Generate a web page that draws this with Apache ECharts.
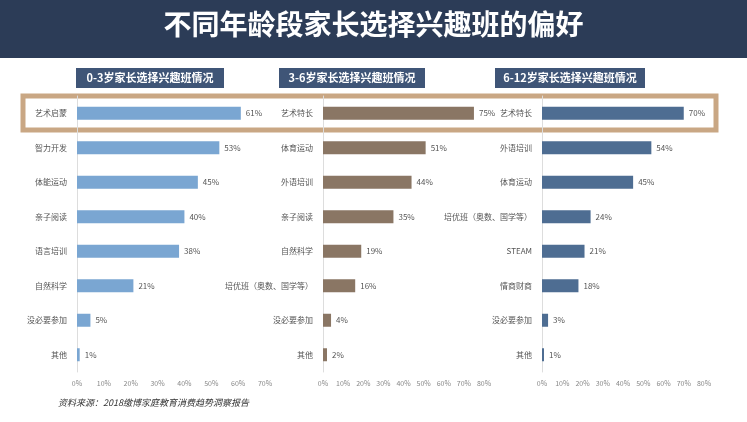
<!DOCTYPE html><html><head><meta charset="utf-8"><script src="https://cdn.jsdelivr.net/npm/echarts@6/dist/echarts.min.js"></script></head><body style="margin:0"><div id="c" style="width:747px;height:422px"></div><script>
const cats1=['艺术启蒙','智力开发','体能运动','亲子阅读','语言培训','自然科学','没必要参加','其他'];
const vals1=[61,53,45,40,38,21,5,1];
const cats2=['艺术特长','体育运动','外语培训','亲子阅读','自然科学','培优班（奥数、国学等）','没必要参加','其他'];
const vals2=[75,51,44,35,19,16,4,2];
const cats3=['艺术特长','外语培训','体育运动','培优班（奥数、国学等）','STEAM','情商财商','没必要参加','其他'];
const vals3=[70,54,45,24,21,18,3,1];
const subtitles=['0-3岁家长选择兴趣班情况','3-6岁家长选择兴趣班情况','6-12岁家长选择兴趣班情况'];
const colors=['#7aa6d2','#8a7664','#4e6d92'];
const grids=[{left:77,width:188,max:70},{left:323,width:161,max:80},{left:542,width:162,max:80}];
const data=[[cats1,vals1],[cats2,vals2],[cats3,vals3]];
const F='"Noto Sans CJK SC",serif';
const ch=echarts.init(document.getElementById('c'));
const o={backgroundColor:'#fff',grid:[],xAxis:[],yAxis:[],series:[],graphic:[
{type:'rect',shape:{x:0,y:0,width:747,height:58},style:{fill:'#2c3c57'}},
{type:'text',left:'center',top:10,style:{text:'不同年龄段家长选择兴趣班的偏好',fill:'#fff',font:'bold 28px '+F}},
{type:'rect',shape:{x:23,y:96,width:693,height:34},style:{fill:'none',stroke:'#c9a784',lineWidth:5}},
{type:'text',left:58,top:398,style:{text:'资料来源：2018缴博家庭教育消费趋势洞察报告',fill:'#333',font:'italic 9px '+F}}
]};
const boxes=[[76,148],[279,146],[495,150]];
data.forEach((d,i)=>{
 const g=grids[i];
 o.grid.push({left:g.left,width:g.width,top:96,height:276});
 o.xAxis.push({gridIndex:i,type:'value',min:0,max:g.max,interval:10,splitLine:{show:false},axisLine:{show:false},axisTick:{show:false},axisLabel:{formatter:'{value}%',fontSize:7,color:'#888',fontFamily:F}});
 o.yAxis.push({gridIndex:i,type:'category',inverse:true,data:d[0],axisLine:{show:true,lineStyle:{color:'#ddd'}},axisTick:{show:false},axisLabel:{fontSize:8,color:'#555',margin:10,fontFamily:F}});
 o.series.push({type:'bar',xAxisIndex:i,yAxisIndex:i,data:d[1],barWidth:13,itemStyle:{color:colors[i]},label:{show:true,position:'right',formatter:'{c}%',fontSize:8,color:'#555',fontFamily:F}});
 o.graphic.push({type:'rect',shape:{x:boxes[i][0],y:68,width:boxes[i][1],height:20},style:{fill:'#3f5577'}});
 o.graphic.push({type:'text',x:boxes[i][0]+boxes[i][1]/2,y:78,style:{text:subtitles[i],fill:'#fff',font:'bold 11px '+F,align:'center',verticalAlign:'middle'}});
});
ch.setOption(o);
</script></body></html>
